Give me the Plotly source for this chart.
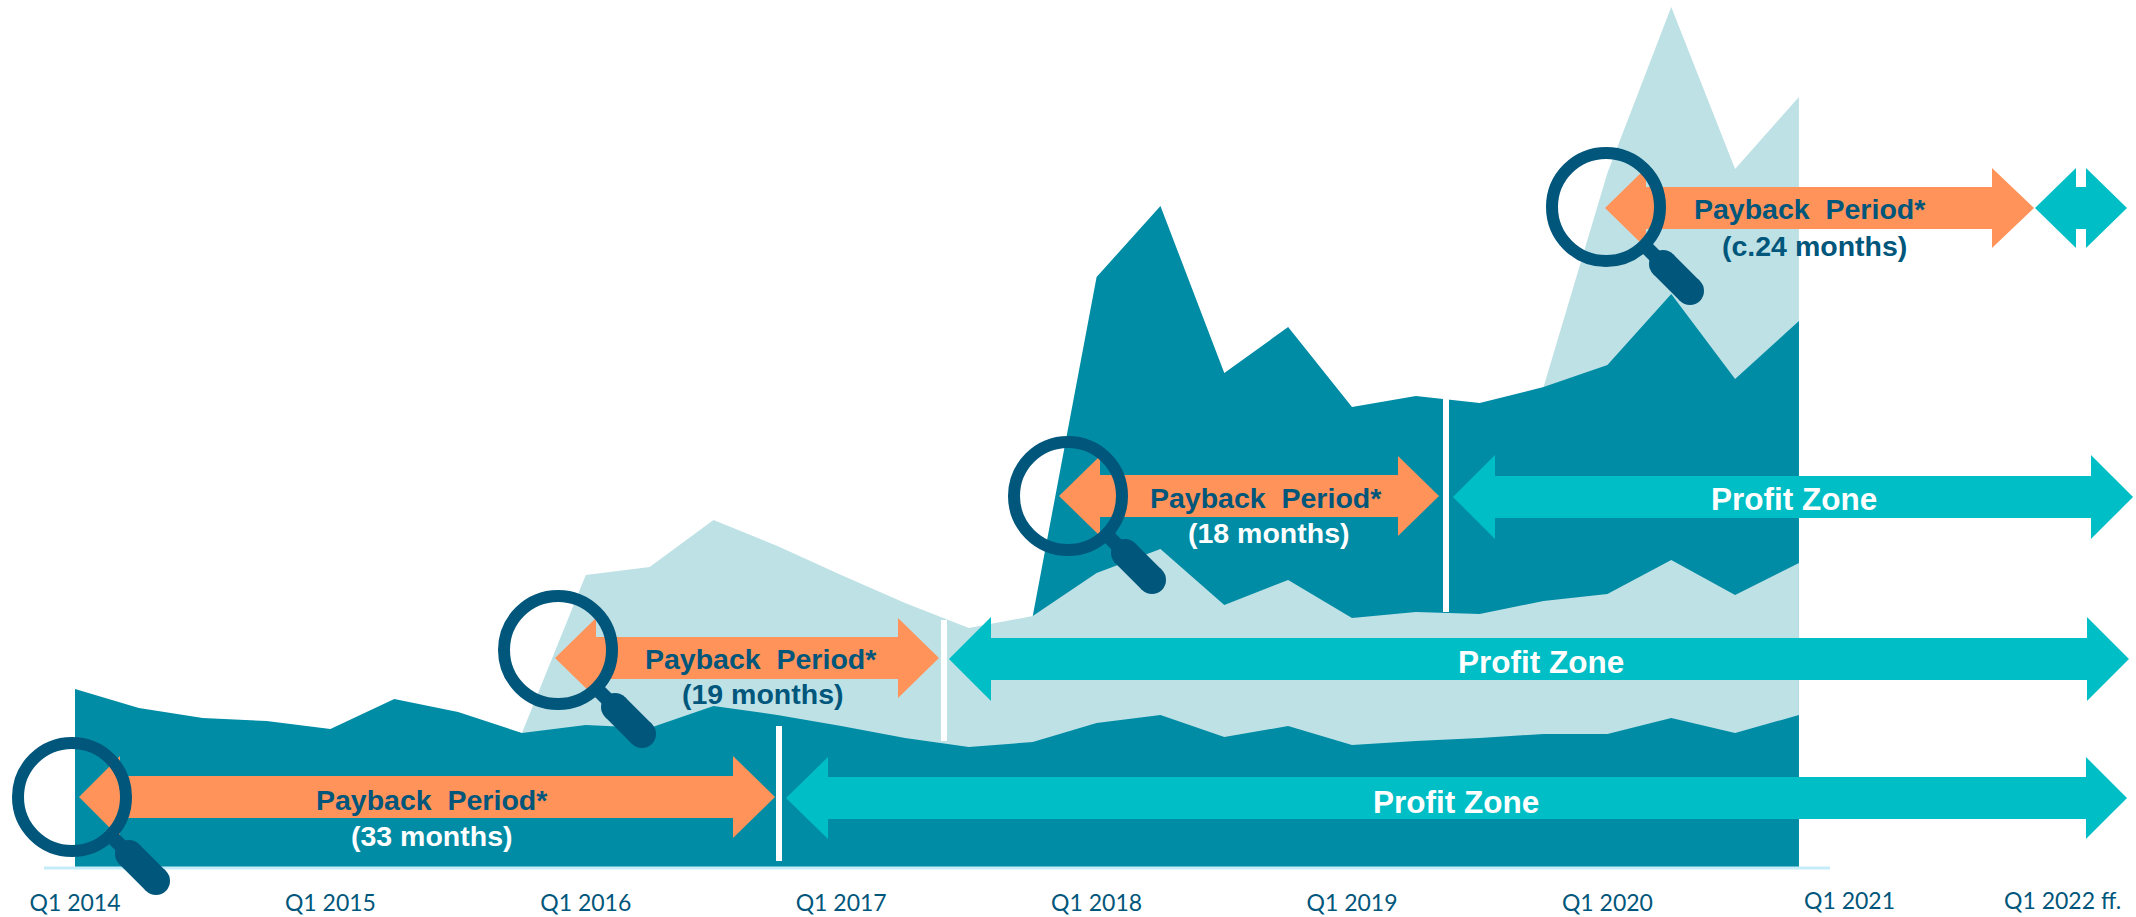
import plotly.graph_objects as go

# ---------- data (arbitrary height units) ----------
quarters = list(range(28))
tick_positions = [0, 4, 8, 12, 16, 20, 24]
tick_labels = ["Q1 2014", "Q1 2015", "Q1 2016", "Q1 2017", "Q1 2018", "Q1 2019", "Q1 2020"]
cohort_2014 = [178, 159, 149, 146, 138, 168, 155, 134, 142, 139, 161, 152, 141, 129, 120, 125,
               144, 152, 130, 141, 122, 126, 129, 133, 133, 149, 134, 152]
cohort_2016 = [134, 292, 300, 347, 321, 292, 264, 239, 251, 294, 318, 262, 287, 249, 255, 253,
               266, 273, 307, 272, 304]
cohort_2018 = [251, 590, 661, 494, 540, 460, 471, 464, 480, 502, 573, 488, 546]
cohort_2020 = [480, 694, 860, 698, 770]

# ---------- style ----------
DARK = "#008CA5"
LIGHT = "#BEE1E6"
ORANGE = "#FF9359"
TEAL = "#00BEC5"
NAVY = "#00567B"
W, H, BASE = 2136, 917, 867
X0, DX = 75, 63.85


def px(x):
    return x / W


def py(y):
    return (BASE - y) / BASE


fig = go.Figure()
for start, vals, col in [(23, cohort_2020, LIGHT), (15, cohort_2018, DARK),
                         (7, cohort_2016, LIGHT), (0, cohort_2014, DARK)]:
    fig.add_trace(go.Scatter(x=quarters[start:], y=vals, mode="lines", line=dict(width=0),
                             fill="tozeroy", fillcolor=col, hoverinfo="skip", showlegend=False))

shapes = []


def rect(x0, y0, x1, y1, col):
    shapes.append(dict(type="rect", xref="paper", yref="paper", x0=px(x0), x1=px(x1),
                       y0=py(y0), y1=py(y1), fillcolor=col, line=dict(width=0)))


def arrow(tip_l, base_l, base_r, tip_r, cy, head, shaft, col):
    pts = [(tip_l, cy), (base_l, cy - head), (base_l, cy - shaft), (base_r, cy - shaft),
           (base_r, cy - head), (tip_r, cy), (base_r, cy + head), (base_r, cy + shaft),
           (base_l, cy + shaft), (base_l, cy + head)]
    path = "M " + " L ".join(f"{px(a):.5f},{py(b):.5f}" for a, b in pts) + " Z"
    shapes.append(dict(type="path", xref="paper", yref="paper", path=path,
                       fillcolor=col, line=dict(width=0)))


def disc(cx, cy, r, col):
    shapes.append(dict(type="circle", xref="paper", yref="paper", x0=px(cx - r), x1=px(cx + r),
                       y0=py(cy - r), y1=py(cy + r), fillcolor=col, line=dict(width=0)))


def seg(x0, y0, x1, y1, wid, col):
    shapes.append(dict(type="line", xref="paper", yref="paper", x0=px(x0), x1=px(x1),
                       y0=py(y0), y1=py(y1), line=dict(color=col, width=wid)))


def magnifier(cx, cy):
    r = 54
    shapes.append(dict(type="circle", xref="paper", yref="paper", x0=px(cx - r), x1=px(cx + r),
                       y0=py(cy - r), y1=py(cy + r), fillcolor="rgba(0,0,0,0)",
                       line=dict(color=NAVY, width=12)))
    seg(cx + 38, cy + 38, cx + 58, cy + 58, 14, NAVY)
    seg(cx + 57, cy + 57, cx + 84, cy + 84, 28, NAVY)
    disc(cx + 57, cy + 57, 14, NAVY)
    disc(cx + 84, cy + 84, 14, NAVY)


# axis line
seg(44, 868, 1830, 868, 3, "#C5ECF8")

# separators
rect(776, 726, 782, 861, "#FFFFFF")
rect(941, 620, 947, 741, "#FFFFFF")
rect(1443, 399, 1449, 612, "#FFFFFF")

# arrows
arrow(79, 120, 733, 775, 797, 41, 21, ORANGE)
arrow(786, 828, 2086, 2127, 798, 41, 21, TEAL)
arrow(555, 596, 898, 939, 658, 40, 21, ORANGE)
arrow(949, 991, 2087, 2129, 659, 42, 21, TEAL)
arrow(1059, 1100, 1398, 1439, 496, 40, 21, ORANGE)
arrow(1453, 1495, 2091, 2133, 497, 42, 21, TEAL)
arrow(1605, 1646, 1992, 2034, 208, 40, 21, ORANGE)
arrow(2035, 2076, 2086, 2127, 208, 40, 21, TEAL)

# magnifiers
magnifier(72, 797)
magnifier(558, 650)
magnifier(1068, 496)
magnifier(1606, 207)

annotations = []


def label(x, y, text, col, size=28.5, bold=True, fam="Liberation Sans"):
    annotations.append(dict(xref="paper", yref="paper", x=px(x), y=py(y), text=text,
                            showarrow=False, xanchor="center", yanchor="middle",
                            font=dict(family=fam, size=size, color=col,
                                      weight="bold" if bold else "normal")))


label(432, 800, "Payback  Period*", NAVY)
label(432, 836, "(33 months)", "#FFFFFF")
label(761, 659, "Payback  Period*", NAVY)
label(763, 694, "(19 months)", NAVY)
label(1266, 498, "Payback  Period*", NAVY)
label(1269, 533, "(18 months)", "#FFFFFF")
label(1810, 209, "Payback  Period*", NAVY)
label(1814, 246, "(c.24 months)", NAVY)
label(1456, 802, "Profit Zone", "#FFFFFF", size=31.5)
label(1541, 662, "Profit Zone", "#FFFFFF", size=31.5)
label(1794, 499, "Profit Zone", "#FFFFFF", size=31.5)
label(1849, 900, "Q1 2021", NAVY, size=23, bold=False, fam="Lato")
label(2062, 900, "Q1 2022 ff.", NAVY, size=23, bold=False, fam="Lato")

fig.update_layout(
    width=W, height=H, autosize=False,
    margin=dict(l=0, r=0, t=0, b=H - BASE, pad=0),
    paper_bgcolor="#FFFFFF", plot_bgcolor="#FFFFFF",
    showlegend=False,
    shapes=shapes, annotations=annotations,
    xaxis=dict(range=[-X0 / DX, (W - X0) / DX], tickmode="array", tickvals=tick_positions,
               ticktext=tick_labels, showgrid=False, zeroline=False, showline=False, ticks="",
               ticklabelstandoff=20, tickfont=dict(family="Lato", size=23, color=NAVY)),
    yaxis=dict(range=[0, BASE], visible=False),
)
fig.write_html("out.html", config={"displayModeBar": False},
               post_script="document.body.style.margin='0';document.body.style.overflow='hidden';")
